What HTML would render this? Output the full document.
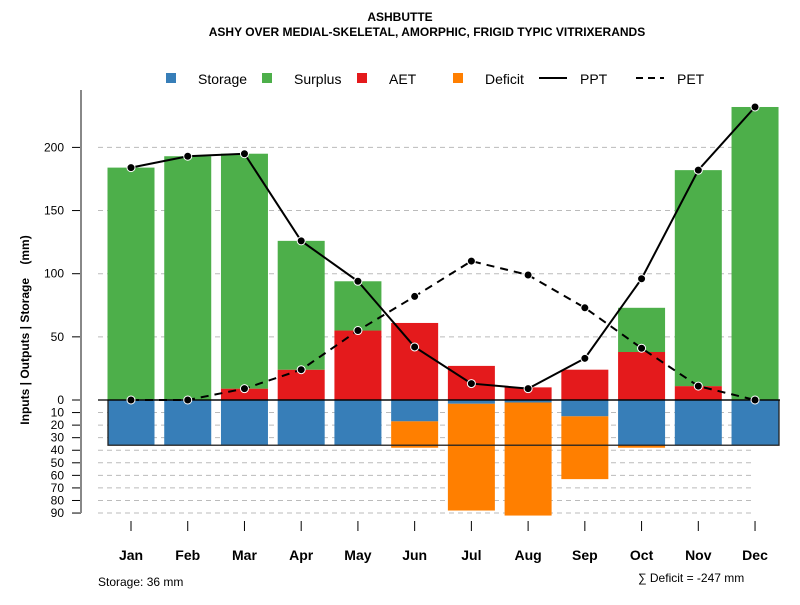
<!DOCTYPE html>
<html><head><meta charset="utf-8"><style>
body{margin:0;background:#fff}
svg{font-family:"Liberation Sans",sans-serif}
</style></head><body>
<svg id="c" width="800" height="600" xmlns="http://www.w3.org/2000/svg">
<text x="400" y="21" text-anchor="middle" font-size="12" font-weight="bold">ASHBUTTE</text>
<text x="427" y="36" text-anchor="middle" font-size="12" font-weight="bold">ASHY OVER MEDIAL-SKELETAL, AMORPHIC, FRIGID TYPIC VITRIXERANDS</text>
<text transform="translate(29,330) rotate(-90)" text-anchor="middle" font-size="12" font-weight="bold">Inputs | Outputs | Storage&#160;&#160;&#160;&#160;(mm)</text>
<g id="legend">
<rect x="166" y="73" width="10" height="10" fill="#377EB8"/>
<text x="198" y="84" font-size="14">Storage</text>
<rect x="262" y="73" width="10" height="10" fill="#4DAF4A"/>
<text x="294" y="84" font-size="14">Surplus</text>
<rect x="357" y="73" width="10" height="10" fill="#E41A1C"/>
<text x="389" y="84" font-size="14">AET</text>
<rect x="453" y="73" width="10" height="10" fill="#FF7F00"/>
<text x="485" y="84" font-size="14">Deficit</text>
<line x1="539" y1="78" x2="567" y2="78" stroke="#000" stroke-width="2"/>
<text x="580" y="84" font-size="14">PPT</text>
<line x1="636" y1="78" x2="664" y2="78" stroke="#000" stroke-width="2" stroke-dasharray="7,5"/>
<text x="677" y="84" font-size="14">PET</text>
</g>
<text x="98" y="586" font-size="12">Storage: 36 mm</text>
<text x="638" y="582" font-size="12">∑ Deficit = -247 mm</text>
</svg>
<script>
const months=["Jan","Feb","Mar","Apr","May","Jun","Jul","Aug","Sep","Oct","Nov","Dec"];
const ppt=[184,193,195,126,94,42,13,9,33,96,182,232];
const pet=[0,0,9,24,55,82,110,99,73,41,11,0];
const aet=[0,0,9,24,55,61,27,10,24,38,11,0];
const surplus=[184,193,186,102,39,0,0,0,0,35,171,232];
const storage=[36,36,36,36,36,17,3,2,13,36,36,36];
const deficit=[0,0,0,0,0,21,85,90,50,2,0,0];
const storageCap=36;
const upperTicks=[0,50,100,150,200];
const lowerTicks=[10,20,30,40,50,60,70,80,90];

const svg=document.getElementById('c');
const NS="http://www.w3.org/2000/svg";
const y0=400,k=1.263;
const yU=v=>y0-v*k, yL=v=>y0+v*1.256;
const xC=i=>131+i*56.73, bw=47;
function mk(t,a,p){const e=document.createElementNS(NS,t);for(const n in a)e.setAttribute(n,a[n]);(p||svg).appendChild(e);return e;}

upperTicks.forEach(v=>{if(v>0){const g=mk('line',{x1:98,x2:780,y1:yU(v),y2:yU(v),stroke:'#bbb','stroke-dasharray':'5,4'});

}
const t=mk('line',{x1:72,x2:81,y1:yU(v),y2:yU(v),stroke:'#000'});


const l=mk('text',{x:64,y:yU(v)+4,'text-anchor':'end','font-size':12});l.textContent=v;

});
lowerTicks.forEach(v=>{const g=mk('line',{x1:98,x2:755,y1:yL(v),y2:yL(v),stroke:'#bbb','stroke-dasharray':'5,4'});


const t=mk('line',{x1:72,x2:81,y1:yL(v),y2:yL(v),stroke:'#000'});


const l=mk('text',{x:64,y:yL(v)+4,'text-anchor':'end','font-size':12});l.textContent=v;

});
const ax=mk('line',{x1:81,x2:81,y1:90,y2:yL(90),stroke:'#888','stroke-width':2});



months.forEach((m,i)=>{
 const x=xC(i)-bw/2;
 let r=mk('rect',{x:x,y:yL(0),width:bw,height:storage[i]*1.256,fill:'#377EB8'});
 
 
 if(deficit[i]>0){r=mk('rect',{x:x,y:yL(storage[i]),width:bw,height:deficit[i]*1.256,fill:'#FF7F00'});
 
 }
 if(aet[i]>0){r=mk('rect',{x:x,y:yU(aet[i]),width:bw,height:aet[i]*k,fill:'#E41A1C'});
 
 }
 if(surplus[i]>0){r=mk('rect',{x:x,y:yU(aet[i]+surplus[i]),width:bw,height:surplus[i]*k,fill:'#4DAF4A'});
 
 }
 const t=mk('line',{x1:xC(i),x2:xC(i),y1:521,y2:531,stroke:'#000'});
 
 
 const l=mk('text',{x:xC(i),y:560,'text-anchor':'middle','font-size':14,'font-weight':'bold'});l.textContent=m;
 
 
});
const box=mk('rect',{x:108,y:yL(0),width:671,height:storageCap*1.256,fill:'none',stroke:'#222','stroke-width':1.3});


const zl=mk('line',{x1:98,x2:780,y1:y0,y2:y0,stroke:'#000','stroke-width':1.3});



function series(vals,name,dash){
 const p=mk('polyline',{points:vals.map((v,i)=>xC(i)+','+yU(v)).join(' '),fill:'none',stroke:'#000','stroke-width':2});
 if(dash)p.setAttribute('stroke-dasharray','8,6');
 
 
 vals.forEach((v,i)=>{const c=mk('circle',{cx:xC(i),cy:yU(v),r:4,fill:'#000',stroke:'#fff','stroke-width':1});
 
 });
}
series(pet,'pet',true);
series(ppt,'ppt',false);
</script>
</body></html>
